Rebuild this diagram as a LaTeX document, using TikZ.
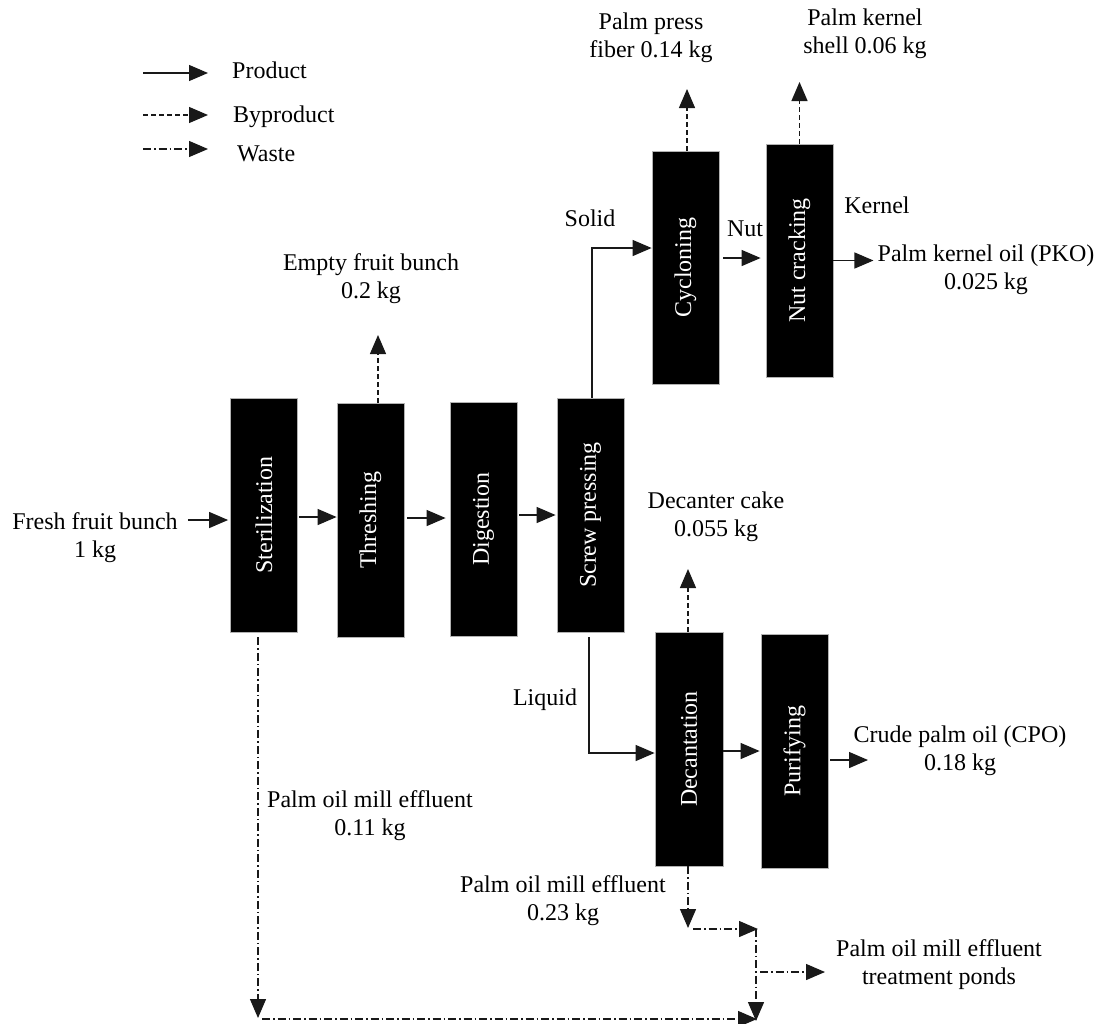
\documentclass[tikz,border=0pt]{standalone}
\usepackage{fontspec}
\setmainfont{Liberation Serif}
\usetikzlibrary{arrows.meta}
\newcommand\myfont{\fontsize{24}{28}\selectfont}
\begin{document}
\begin{tikzpicture}[x=1pt,y=-1pt,
  font=\myfont,
  box/.style={draw=gray!60, line width=0.8pt, fill=black, minimum width=67pt, minimum height=234pt, inner sep=0pt},
  boxtxt/.style={rotate=90,text=white,inner sep=0pt},
  txt/.style={align=center, inner sep=0pt},
  tip/.style={-{Triangle[length=19pt,width=16pt]}},
  prod/.style={tip, line width=1.3pt, draw=black!90},
  byp/.style={prod, dash pattern=on 5pt off 3pt},
  wst/.style={prod, dash pattern=on 8pt off 3pt on 1.5pt off 3pt},
]
\useasboundingbox (0,0) rectangle (1099,1023);

% legend
\coordinate (l1a) at (143,73); \coordinate (l1b) at (208,73);
\coordinate (l2a) at (143,115); \coordinate (l2b) at (208,115);
\coordinate (l3a) at (143,149); \coordinate (l3b) at (208,149);
\draw[prod] (l1a) -- (l1b);
\draw[byp] (l2a) -- (l2b);
\draw[wst] (l3a) -- (l3b);
\node[anchor=base west, inner sep=0pt] (lp) at (232,78) {Product};
\node[anchor=base west, inner sep=0pt] (lb) at (233,122) {Byproduct};
\node[anchor=base west, inner sep=0pt] (lw) at (237,161) {Waste};

% process boxes
\node[box] (ster) at (264,515) {};
\node[box] (thr) at (370.5,520) {};
\node[box] (dig) at (483.5,519) {};
\node[box] (scr) at (590.5,515) {};
\node[box, minimum height=233pt] (cyc) at (685.5,267.5) {};
\node[box, minimum height=233pt] (nut) at (799.5,260.5) {};
\node[box, minimum width=68pt] (dec) at (689,749) {};
\node[box] (pur) at (794.5,751) {};
\node[boxtxt] (sterT) at (ster.center) {Sterilization};
\node[boxtxt] (thrT) at (thr.center) {Threshing};
\node[boxtxt] (digT) at (dig.center) {Digestion};
\node[boxtxt] (scrT) at (scr.center) {Screw pressing};
\node[boxtxt] (cycT) at (cyc.center) {Cycloning};
\node[boxtxt] (nutT) at (nut.center) {Nut cracking};
\node[boxtxt] (decT) at (dec.center) {Decantation};
\node[boxtxt] (purT) at (pur.center) {Purifying};

% labels
\node[txt] (ffb) at (95,538) {Fresh fruit bunch\\1 kg};
\node[txt] (efb) at (371,279) {Empty fruit bunch\\0.2 kg};
\node[txt] (ppf) at (651,38) {Palm press\\fiber 0.14 kg};
\node[txt] (pks) at (865,34) {Palm kernel\\shell 0.06 kg};
\node[txt] (solid) at (590,218) {Solid};
\node[txt] (nutl) at (745,229) {Nut};
\node[txt] (kern) at (877,205) {Kernel};
\node[txt] (pko) at (986,270) {Palm kernel oil (PKO)\\0.025 kg};
\node[txt] (dcake) at (716,517) {Decanter cake\\0.055 kg};
\node[txt] (liq) at (545,700) {Liquid};
\node[txt] (cpo) at (960,751) {Crude palm oil (CPO)\\0.18 kg};
\node[txt] (pome1) at (370,816) {Palm oil mill effluent\\0.11 kg};
\node[txt] (pome2) at (563,901) {Palm oil mill effluent\\0.23 kg};
\node[txt] (pond) at (939,965) {Palm oil mill effluent\\treatment ponds};

% tips
\coordinate (tEFB) at (378,335);
\coordinate (tPPF) at (687,89);
\coordinate (tPKS) at (799.5,82);
\coordinate (tDC) at (688,569);
\coordinate (tCPO) at (868,760);
\coordinate (d1) at (688,928);
\coordinate (d2) at (693,929);
\coordinate (j1) at (758,929);
\coordinate (j2) at (756,1021);
\coordinate (jv) at (756,929);
\coordinate (jb) at (760,972);
\coordinate (tPond) at (825,972);
\coordinate (s1) at (258,1018);
\coordinate (s2) at (262,1019);
\coordinate (s3) at (757,1019);

% product flow
\draw[prod, shorten <=10pt] ([yshift=-5pt]ster.west -| ffb.east) -- ([xshift=-2pt,yshift=-5pt]ster.west);
\draw[prod] ([xshift=1pt,yshift=-2pt]ster.east) -- ([yshift=-2pt]ster.east -| thr.west);
\draw[prod, shorten >=4pt] ([xshift=3pt,yshift=2pt]thr.east) -- ([yshift=2pt]thr.east -| dig.west);
\draw[prod, shorten >=1pt] ([xshift=2pt,yshift=4pt]dig.east) -- ([yshift=4pt]dig.east -| scr.west);
\draw[prod] ([xshift=1.5pt]scr.north) |- ([yshift=19.5pt]cyc.west);
\draw[prod, shorten >=5pt] ([xshift=4pt,yshift=9.5pt]cyc.east) -- ([yshift=9.5pt]cyc.east -| nut.west);
\draw[prod, shorten >=4pt] (nut.east) -- (nut.east -| pko.west);
\draw[prod] ([xshift=-1.5pt,yshift=-5pt]scr.south) |- ([yshift=-4pt]dec.west);
\draw[prod, shorten >=1pt] ([yshift=-2pt]dec.east) -- ([yshift=-2pt]dec.east -| pur.west);
\draw[prod, shorten <=2pt] ([yshift=-9pt]pur.east) -- (tCPO);

% byproducts
\draw[byp] ([xshift=7.5pt]thr.north) -- (tEFB);
\draw[byp] ([xshift=1.5pt]cyc.north) -- (tPPF);
\draw[byp] (nut.north) -- (tPKS);
\draw[byp] ([xshift=-1pt]dec.north) -- (tDC);

% waste
\draw[wst] ([xshift=-1pt]dec.south) -- (d1);
\draw[wst] (d2) -- (j1);
\draw[wst] (jv) -- (j2);
\draw[wst] (jb) -- (tPond);
\draw[wst, shorten <=5pt] ([xshift=-6pt]ster.south) -- (s1);
\draw[wst] (s2) -- (s3);
\end{tikzpicture}
\end{document}
